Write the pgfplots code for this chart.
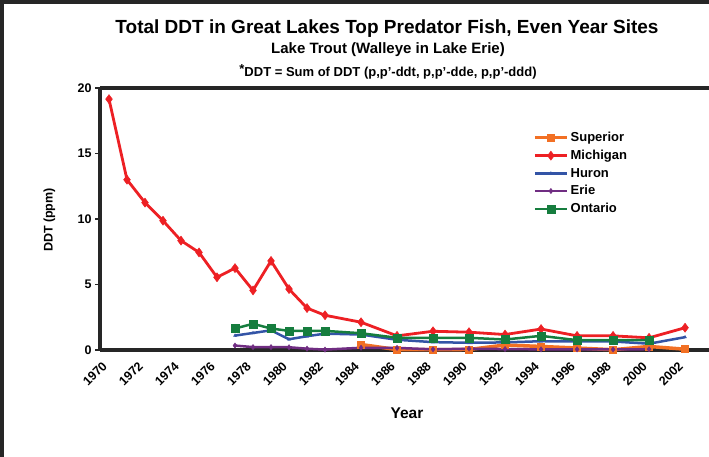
\documentclass[border=0pt]{standalone}
\usepackage{fontspec}
\setmainfont{Liberation Sans}
\usepackage{pgfplots}
\pgfplotsset{compat=1.18}

\definecolor{superior}{RGB}{242,112,36}
\definecolor{michigan}{RGB}{237,32,36}
\definecolor{huron}{RGB}{51,84,166}
\definecolor{erie}{RGB}{112,45,130}
\definecolor{ontario}{RGB}{22,125,62}

\begin{document}
\begin{tikzpicture}
\useasboundingbox (0pt,0pt) rectangle (709pt,457pt);
% outer frame (left and top)
\draw[line width=4pt, black!85] (2pt,0pt) -- (2pt,455pt) -- (709pt,455pt);

\node[font=\bfseries\fontsize{19}{21}\selectfont] at (387pt,428pt) {Total DDT in Great Lakes Top Predator Fish, Even Year Sites};
\node[font=\bfseries\fontsize{15}{17}\selectfont] at (388pt,407pt) {Lake Trout (Walleye in Lake Erie)};
\node[font=\bfseries\fontsize{13}{15}\selectfont] at (388pt,385pt) {\raisebox{0.35ex}{*}DDT = Sum of DDT (p,p'-ddt, p,p'-dde, p,p'-ddd)};

\begin{axis}[
  at={(100pt,107pt)}, anchor=south west,
  scale only axis,
  width=609pt, height=262pt,
  xmin=1969.5, xmax=2003.33,
  ymin=0, ymax=20,
  axis x line=box, axis y line=left,
  axis line style={-, line width=3.5pt, black!85},
  xtick={1970,1972,...,2002},
  ytick={0,5,10,15,20},
  x tick style={draw=none},
  y tick style={line width=1.5pt, black!85},
  major tick length=5pt,
  tick align=outside,
  /pgf/number format/1000 sep={},
  /pgf/number format/assume math mode=true,
  ticklabel style={font=\bfseries\fontsize{12.5}{14}\selectfont},
  xticklabel style={rotate=45, anchor=north east, xshift=-6pt, yshift=4.6pt},
  xlabel={Year},
  xlabel style={at={(axis description cs:0.504,-0.24)}, anchor=center, font=\bfseries\fontsize{15.5}{17}\selectfont},
  ylabel={DDT (ppm)},
  ylabel style={at={(axis description cs:-0.083,0.496)}, rotate=0, anchor=center, font=\bfseries\fontsize{12.5}{14}\selectfont},
  clip=false,
  legend style={at={(0.706,0.847)}, anchor=north west, draw=none, fill=none,
    font=\bfseries\fontsize{13}{15}\selectfont, row sep=3pt},
  legend cell align=left,
  legend image code/.code={\draw[mark repeat=2,mark phase=2] plot coordinates {(0pt,0pt)(16pt,0pt)(32pt,0pt)};},
]
\addplot[superior, line width=3.5pt, mark=square*, mark size=3.5pt, mark options={line width=0.5pt}]
  coordinates {(1984,0.42)(1986,0.03)(1988,0.03)(1990,0.04)(1992,0.38)(1994,0.27)(1996,0.15)(1998,0.02)(2000,0.27)(2002,0.06)};
\addlegendentry{Superior}
\addplot[michigan, line width=2.8pt, mark=diamond*, mark size=4.5pt, mark options={line width=0.5pt}]
  coordinates {(1970,19.15)(1971,13.0)(1972,11.25)(1973,9.87)(1974,8.35)(1975,7.45)(1976,5.55)(1977,6.25)(1978,4.55)(1979,6.8)(1980,4.65)(1981,3.2)(1982,2.65)(1984,2.12)(1986,1.08)(1988,1.43)(1990,1.36)(1992,1.18)(1994,1.6)(1996,1.08)(1998,1.08)(2000,0.93)(2002,1.7)};
\addlegendentry{Michigan}
\addplot[huron, line width=2.5pt, mark=triangle*, mark size=1.6pt, mark options={line width=0.5pt}]
  coordinates {(1977,1.1)(1978,1.3)(1979,1.5)(1980,0.82)(1981,1.05)(1982,1.25)(1984,1.18)(1986,0.78)(1988,0.6)(1990,0.55)(1992,0.58)(1994,0.67)(1996,0.65)(1998,0.65)(2000,0.48)(2002,0.98)};
\addlegendentry{Huron}
\addplot[erie, line width=2.5pt, mark=diamond*, mark size=2.6pt, mark options={line width=0.5pt}]
  coordinates {(1977,0.34)(1978,0.22)(1979,0.22)(1980,0.21)(1981,0.1)(1982,0.03)(1984,0.17)(1986,0.16)(1988,0.05)(1990,0.1)(1992,0.07)(1994,0.05)(1996,0.05)(1998,0.04)(2000,0.06)};
\addlegendentry{Erie}
\addplot[ontario, line width=2.5pt, mark=square*, mark size=4pt, mark options={line width=0.5pt}]
  coordinates {(1977,1.64)(1978,2.0)(1979,1.64)(1980,1.46)(1981,1.46)(1982,1.46)(1984,1.28)(1986,0.93)(1988,0.93)(1990,0.93)(1992,0.8)(1994,1.08)(1996,0.75)(1998,0.75)(2000,0.75)};
\addlegendentry{Ontario}
\end{axis}
\end{tikzpicture}
\end{document}
